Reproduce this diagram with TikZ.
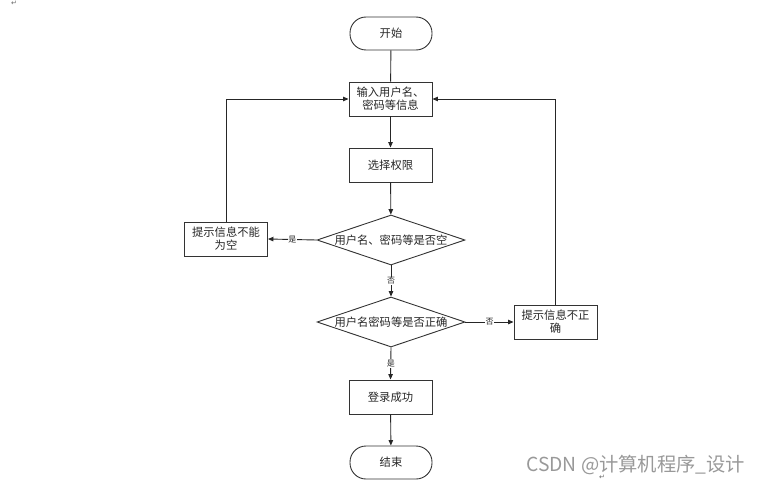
\documentclass[tikz,border=0pt]{standalone}
\usepackage{fontspec}
\setmainfont{Liberation Sans}
\newfontfamily\cjk{Noto Sans CJK SC}
\newfontfamily\djv{DejaVu Sans}
\usetikzlibrary{arrows.meta,shapes.geometric,positioning}
\begin{document}
\begin{tikzpicture}[x=1pt,y=-1pt,
  every node/.style={font=\cjk\fontsize{11.3}{13}\selectfont,text=black!85},
  boxnode/.style={draw=black!80,line width=0.9pt,minimum width=83pt,minimum height=34pt,inner sep=1pt,align=center},
  termnode/.style={draw=black!80,line width=0.9pt,rounded corners=16pt,minimum width=82pt,minimum height=33pt,inner sep=1pt},
  decnode/.style={draw=black!80,line width=0.9pt,diamond,aspect=2.96,minimum width=148pt,minimum height=50pt,inner sep=0pt},
  conn/.style={draw=black!85,line width=0.9pt,-{Triangle[length=5.5pt,width=4.5pt]}},
  plain/.style={draw=black!85,line width=0.9pt},
  lbl/.style={font=\cjk\fontsize{8}{9}\selectfont,fill=white,inner sep=0.5pt}]
\useasboundingbox (0,0) rectangle (762,484);
\node[termnode] (start) at (391,33.5) {开始};
\node[boxnode] (input) at (390.5,99) {输入用户名、\\密码等信息};
\node[boxnode] (perm) at (390.5,165) {选择权限};
\node[decnode] (d1) at (391,240) {用户名、密码等是否空};
\node[boxnode] (empty) at (226,239) {提示信息不能\\为空};
\node[decnode] (d2) at (391,322) {用户名密码等是否正确};
\node[boxnode] (wrong) at (555.5,322) {提示信息不正\\确};
\node[boxnode] (ok) at (390.5,397) {登录成功};
\node[termnode] (end) at (391,462.5) {结束};
\coordinate (lc) at (226,99);
\coordinate (rc) at (555.5,99);
\draw[plain] (start) -- (input);
\draw[conn] (input) -- (perm);
\draw[conn] (perm) -- (d1);
\draw[conn] (d1.west) -- node[lbl]{是} (empty.east);
\draw[conn] (d1.south) -- node[lbl]{否} (d2.north);
\draw[conn] (d2.east) -- node[lbl]{否} (wrong.west);
\draw[conn] (d2.south) -- node[lbl]{是} (ok.north);
\draw[conn] (ok) -- (end);
\draw[conn] (empty.north) -- (lc) -- (input.west);
\draw[conn] (wrong.north) -- (rc) -- (input.east);
\node[font=\djv\fontsize{7}{8}\selectfont,text=black!60,inner sep=0pt] (m1) at (14,3) {↵};
\node[font=\djv\fontsize{7}{8}\selectfont,text=black!60,inner sep=0pt] (m2) at (602,477) {↵};
\node[font=\cjk\fontsize{19.3}{21}\selectfont,text=black!40,anchor=west,inner sep=0pt] (wm) at (526,465) {CSDN @计算机程序\_设计};
\end{tikzpicture}
\end{document}
